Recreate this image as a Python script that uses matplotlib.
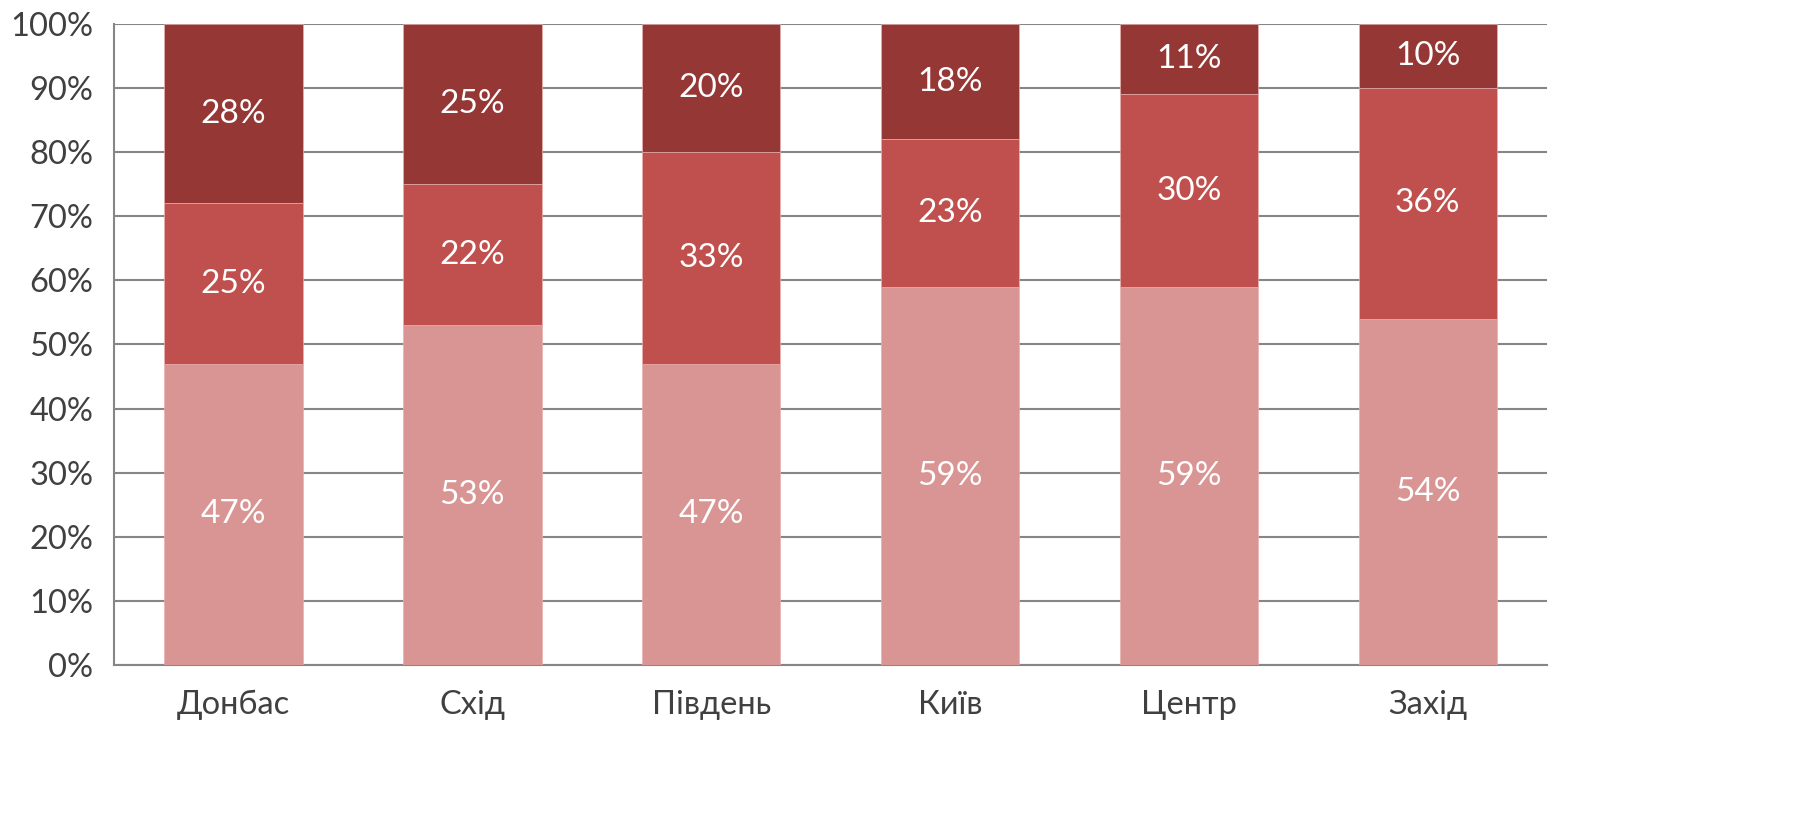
import numpy as np
import matplotlib.pyplot as plt

regions = ['Донбас', 'Схід', 'Південь', 'Київ', 'Центр', 'Захід']
low = [47, 53, 47, 59, 59, 54]
mid = [25, 22, 33, 23, 30, 36]
top = [28, 25, 20, 18, 11, 10]

colors = ['#D99594', '#C0504D', '#953735']

plt.rcParams['font.family'] = ['Lato', 'DejaVu Sans']

fig = plt.figure(figsize=(17.96, 8.27), dpi=100)
ax = fig.add_axes([0.0635, 0.196, 0.798, 0.775])

x = np.arange(len(regions))
w = 0.58
bottom = np.zeros(len(regions))
for vals, c in zip([low, mid, top], colors):
    vals = np.array(vals)
    ax.bar(x, vals, w, bottom=bottom, color=c, edgecolor='#e8b0ae', linewidth=0.5, zorder=3)
    for xi, b, v in zip(x, bottom, vals):
        ax.text(xi, b + v / 2, '%d%%' % v, ha='center', va='center',
                color='white', fontsize=24, zorder=4)
    bottom = bottom + vals

ax.set_xlim(-0.5, len(regions) - 0.5)
ax.set_ylim(0, 100)
ax.set_yticks(np.arange(0, 101, 10))
ax.set_yticklabels(['%d%%' % t for t in range(0, 101, 10)])
ax.set_xticks(x)
ax.set_xticklabels(regions)
ax.yaxis.grid(True, color='#868686', linewidth=1.5, zorder=0)
ax.tick_params(axis='both', length=0, labelsize=23.5, labelcolor='#404040')
ax.tick_params(axis='x', pad=18)
ax.tick_params(axis='y', pad=15)
for s in ['top', 'right']:
    ax.spines[s].set_visible(False)
for s in ['left', 'bottom']:
    ax.spines[s].set_color('#868686')
    ax.spines[s].set_linewidth(1.5)

fig.savefig('out.png', dpi=100)
